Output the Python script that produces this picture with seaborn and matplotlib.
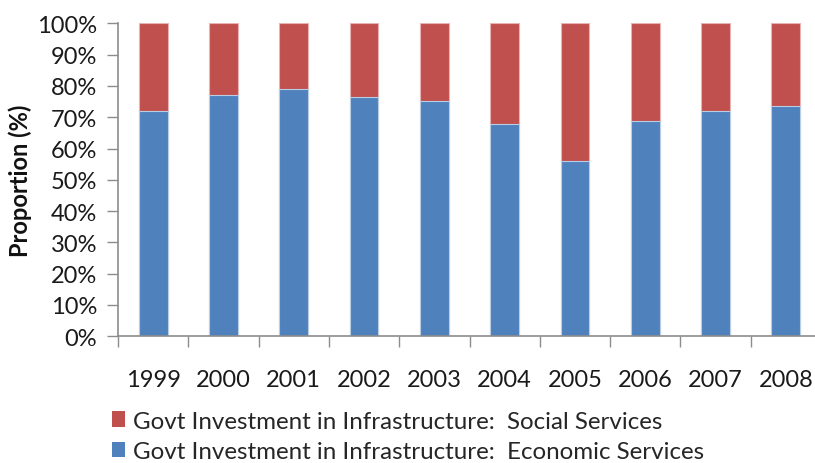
import matplotlib
matplotlib.use("Agg")
import matplotlib.pyplot as plt
import seaborn as sns
import pandas as pd
from matplotlib.patches import Patch
from matplotlib.ticker import FixedLocator

years = ["1999", "2000", "2001", "2002", "2003", "2004", "2005", "2006", "2007", "2008"]
economic = [72, 77, 79, 76.5, 75.3, 67.8, 56, 68.7, 72, 73.5]
social = [100 - v for v in economic]
y_ticks = list(range(0, 101, 10))
series_names = ["Govt Investment in Infrastructure:  Social Services",
                "Govt Investment in Infrastructure:  Economic Services"]

BLUE = "#4F81BD"
RED = "#C0504D"

sns.set_theme(style="white")
plt.rcParams["font.family"] = ["Lato", "DejaVu Sans"]

df = pd.DataFrame({"year": years, "economic": economic, "social": social})
df["total"] = df["economic"] + df["social"]

fig = plt.figure(figsize=(8.15, 4.64), dpi=100)
ax = fig.add_axes([0.1448, 0.2737, 0.8626, 0.6735])

sns.barplot(data=df, x="year", y="total", color=RED, saturation=1, width=0.41,
            edgecolor="#E8B4B3", linewidth=0.8, ax=ax)
sns.barplot(data=df, x="year", y="economic", color=BLUE, saturation=1, width=0.41,
            edgecolor="#B9CDE5", linewidth=0.8, ax=ax)

ax.set_xlim(-0.5, len(years) - 0.5)
ax.set_ylim(0, 100)
ax.set_yticks(y_ticks)
ax.set_yticklabels([f"{t}%" for t in y_ticks], fontsize=17, color="#1a1a1a")
ax.set_xlabel("")
ax.set_ylabel("Proportion (%)", fontsize=17, fontweight="bold", labelpad=2, color="#111111")
ax.yaxis.set_label_coords(-0.122, 0.5)

# category labels without tick marks; tick marks sit on the category boundaries
ax.tick_params(axis="x", which="major", length=0, pad=24, labelsize=17, labelcolor="#1a1a1a")
ax.xaxis.set_minor_locator(FixedLocator([i - 0.5 for i in range(len(years) + 1)]))
ax.tick_params(axis="x", which="minor", length=8, width=1, color="#8C8C8C", direction="out", bottom=True)
ax.tick_params(axis="y", length=8, width=1, color="#8C8C8C", direction="out", left=True, pad=7)

for s in ["top", "right"]:
    ax.spines[s].set_visible(False)
for s in ["left", "bottom"]:
    ax.spines[s].set_color("#8C8C8C")
    ax.spines[s].set_linewidth(1.2)

handles = [Patch(facecolor=RED, edgecolor="none"), Patch(facecolor=BLUE, edgecolor="none")]
fig.legend(handles, series_names, loc="upper left", bbox_to_anchor=(0.137, 0.113),
           frameon=False, fontsize=17.4, handlelength=0.55, handleheight=0.6,
           handletextpad=0.35, labelspacing=0.4, borderaxespad=0, borderpad=0)

fig.savefig("out.png", dpi=100)
